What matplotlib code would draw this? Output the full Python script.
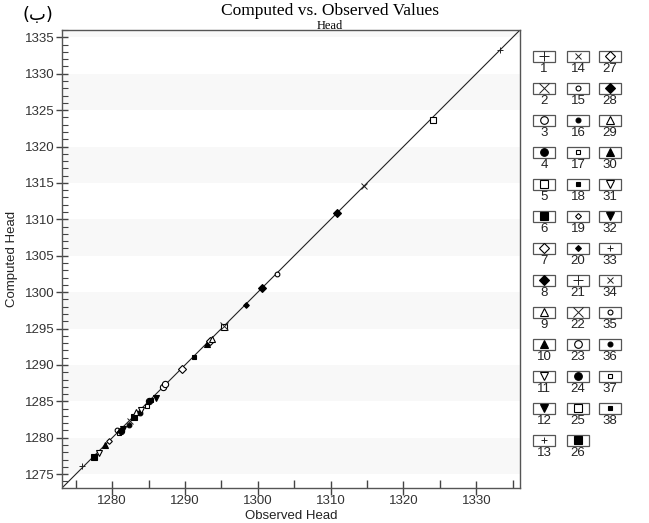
import matplotlib
matplotlib.use("Agg")
import matplotlib.pyplot as plt
from matplotlib.patches import Rectangle
from matplotlib.ticker import MultipleLocator

plt.rcParams["font.family"] = ["Liberation Sans", "DejaVu Sans"]

# observed vs computed head, one entry per plotted well
observed = [1275.9, 1277.5, 1278.2, 1279.0, 1279.6, 1280.6, 1280.9, 1281.2,
            1281.5, 1282.3, 1282.5, 1283.0, 1283.3, 1283.8, 1284.0, 1284.8,
            1285.0, 1285.3, 1286.0, 1287.0, 1287.2, 1289.6, 1291.2, 1293.0,
            1293.4, 1293.7, 1295.3, 1295.3, 1298.4, 1300.6, 1302.6, 1310.9,
            1314.6, 1324.0, 1333.2]
computed = [1276.1, 1277.4, 1277.9, 1279.0, 1279.6, 1281.0, 1280.6, 1280.9,
            1281.2, 1281.7, 1282.3, 1282.8, 1283.5, 1283.4, 1283.8, 1284.4,
            1285.0, 1285.2, 1285.5, 1287.0, 1287.4, 1289.5, 1291.1, 1292.9,
            1293.3, 1293.6, 1295.2, 1295.3, 1298.3, 1300.6, 1302.5, 1310.8,
            1314.6, 1323.7, 1333.2]
well_id = [13, 6, 11, 30, 19, 15, 37, 4, 32, 16, 34, 26, 9, 36, 31, 17,
           24, 18, 12, 3, 23, 27, 38, 10, 7, 29, 5, 22, 20, 28, 35, 8,
           14, 25, 33]

n_wells = 38
title = "Computed vs. Observed Values"
subtitle = "Head"

# symbol cycle used by the legend (20 symbols, repeats)
sym_cycle = [("+", True, 1), ("x", True, 1), ("o", False, 1), ("o", True, 1),
             ("s", False, 1), ("s", True, 1), ("D", False, 1), ("D", True, 1),
             ("^", False, 1), ("^", True, 1), ("v", False, 1), ("v", True, 1),
             ("+", True, 0), ("x", True, 0), ("o", False, 0), ("o", True, 0),
             ("s", False, 0), ("s", True, 0), ("D", False, 0), ("D", True, 0)]


def marker_style(i, big=5.0, small=3.2):
    m, filled, large = sym_cycle[(i - 1) % 20]
    ms = big if large else small
    if m == "D":
        ms *= 0.85
    if m in ("+", "x"):
        return dict(marker=m, ms=ms * 1.2, mec="#222222", mew=0.7, ls="none")
    return dict(marker=m, ms=ms, mfc="black" if filled else "white",
                mec="black", mew=0.8, ls="none")


fig = plt.figure(figsize=(6.49, 5.23), dpi=100)
ax = fig.add_axes([62 / 649, 1 - 488 / 523, 458 / 649, 458 / 523])

lo, hi = 1273.1, 1336.0
ax.set_xlim(lo, hi)
ax.set_ylim(lo, hi)

# very light alternating bands
for b in range(1275, 1340, 10):
    ax.axhspan(b, b + 5, color="#f8f8f8", lw=0, zorder=0)

ax.plot([lo, hi], [lo, hi], color="#222222", lw=0.8, zorder=1)

for ob, cp, w in zip(observed, computed, well_id):
    ax.plot(ob, cp, zorder=3, **marker_style(w, big=4.5, small=3.4))

ax.xaxis.set_major_locator(MultipleLocator(10))
ax.xaxis.set_minor_locator(MultipleLocator(5))
ax.yaxis.set_major_locator(MultipleLocator(5))
ax.yaxis.set_minor_locator(MultipleLocator(1))
ax.tick_params(axis="x", which="major", direction="inout", length=10, width=1,
               color="#444444", labelsize=9.5, labelcolor="#333333", pad=0)
ax.tick_params(axis="x", which="minor", direction="in", length=6, width=1,
               color="#444444")
ax.tick_params(axis="y", which="major", direction="inout", length=8, width=1,
               color="#444444", labelsize=9.5, labelcolor="#333333", pad=1)
ax.tick_params(axis="y", which="minor", direction="in", length=4, width=0.8,
               color="#444444")
for s in ax.spines.values():
    s.set_color("#555555")
    s.set_linewidth(1)

ax.set_xlabel("Observed Head", fontsize=9.5, color="#222222", labelpad=0)
ax.set_ylabel("Computed Head", fontsize=9.5, color="#222222")
ax.xaxis.set_label_coords(0.5, -0.047)
ax.yaxis.set_label_coords(-0.095, 0.5)

fig.text(330 / 649, 1 - 11 / 523, title, family="Liberation Serif",
         fontsize=12.5, ha="center", va="center")
fig.text(330 / 649, 1 - 26 / 523, subtitle, family="Liberation Serif",
         fontsize=9, ha="center", va="center")
fig.text(38 / 649, 1 - 15 / 523, "(ب)", family="DejaVu Sans",
         fontsize=13, ha="center", va="center")

# legend: boxes with symbols and well numbers, three columns
leg = fig.add_axes([0, 0, 1, 1], zorder=-1)
leg.set_xlim(0, 649)
leg.set_ylim(523, 0)
leg.axis("off")
col_x = [544, 578, 610]
row_h = 32
for i in range(1, n_wells + 1):
    col = (i - 1) // 13
    row = (i - 1) % 13
    cx = col_x[col]
    cy = 56 + row * row_h
    leg.add_patch(Rectangle((cx - 11, cy - 5.5), 22, 11, fill=False,
                            ec="#555555", lw=0.9))
    leg.plot(cx, cy, **marker_style(i, big=5.5, small=3.5))
    leg.text(cx, cy + 13.5, str(i), fontsize=9.5, ha="center", va="center",
             color="#222222")

fig.savefig("out.png", dpi=100)
